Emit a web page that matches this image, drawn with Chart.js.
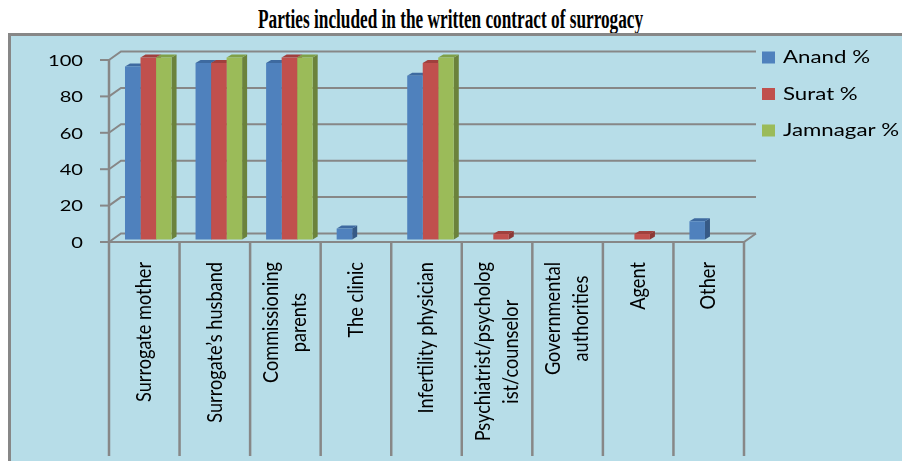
<!DOCTYPE html>
<html>
<head>
<meta charset="utf-8">
<script src="https://cdn.jsdelivr.net/npm/chart.js@4.4.0/dist/chart.umd.min.js"></script>
<style>
  html, body { margin: 0; padding: 0; background: #fff; }
  #wrap { position: relative; width: 902px; height: 461px; overflow: hidden; }
  #title { position: absolute; top: 6px; left: 0; width: 902px; text-align: center; white-space: nowrap;
           font: bold 27px "Liberation Serif", "Times New Roman", serif; line-height: 27px; color: #000; }
  #title span { display: inline-block; transform-origin: 50% 50%; }
  #frame { position: absolute; left: 8px; top: 33px; width: 920px; height: 460px; box-sizing: border-box;
           border: 3px solid #878787; background: #b7dde8; }
  #chart { position: absolute; left: 0; top: 0; }
</style>
</head>
<body>
<div id="wrap">
  <div id="title"><span>Parties included in the written contract of surrogacy</span></div>
  <div id="frame"></div>
  <canvas id="chart" width="902" height="461"></canvas>
</div>
<script>
const categories = [
  ["Surrogate mother"],
  ["Surrogate\u2019s husband"],
  ["Commissioning", "parents"],
  ["The clinic"],
  ["Infertility physician"],
  ["Psychiatrist/psycholog", "ist/counselor"],
  ["Governmental", "authorities"],
  ["Agent"],
  ["Other"],
];
const anand = [95, 97, 97, 6, 90, 0, 0, 0, 10];
const surat = [100, 97, 100, 0, 97, 3, 0, 3, 0];
const jamnagar = [100, 100, 100, 0, 100, 0, 0, 0, 0];
const seriesNames = ["Anand %", "Surat %", "Jamnagar %"];
const yTicks = [0, 20, 40, 60, 80, 100];

const fronts = ["#4f81bd", "#c0504d", "#9bbb59"];
const sides = ["#365a86", "#8c3936", "#6b823c"];
const tops = ["#3e6aa0", "#a0403d", "#80a047"];
const LINE = "#878787";

// squeeze the title to the width it has in the picture
const t = document.querySelector("#title span");
t.style.transform = `scaleX(${385 / t.offsetWidth})`;

const DX = 12, DY = -8.5;   // back wall offset
const BX = 5, BY = -3;      // bar depth
const SX = 4, SY = -2.5;    // bars sit mid-depth

const decor = {
  id: "decor",
  beforeDatasetsDraw(chart) {
    const { ctx, chartArea: a, scales: { x, y } } = chart;
    ctx.save();
    ctx.strokeStyle = LINE;
    ctx.lineWidth = 2;

    // back wall grid lines + diagonals
    yTicks.forEach((v) => {
      const py = y.getPixelForValue(v);
      ctx.beginPath();
      ctx.moveTo(a.left, py);
      ctx.lineTo(a.left + DX, py + DY);
      ctx.lineTo(a.right + DX, py + DY);
      ctx.stroke();
      // front tick
      ctx.beginPath();
      ctx.moveTo(a.left - 9, py);
      ctx.lineTo(a.left, py);
      ctx.stroke();
    });
    // floor front edge
    ctx.beginPath();
    ctx.moveTo(a.left, a.bottom);
    ctx.lineTo(a.right, a.bottom);
    ctx.lineTo(a.right + DX, a.bottom + DY);
    ctx.stroke();

    // category separators / front axis
    ctx.lineWidth = 2.5;
    const w = (a.right - a.left) / categories.length;
    for (let i = 0; i <= categories.length; i++) {
      const px = a.left + i * w;
      ctx.beginPath();
      ctx.moveTo(px, i === 0 ? y.getPixelForValue(100) : a.bottom);
      ctx.lineTo(px, 456);
      ctx.stroke();
    }

    // y labels
    ctx.fillStyle = "#000";
    ctx.font = "15px Lato";
    ctx.textAlign = "right";
    ctx.textBaseline = "middle";
    const ys = 35 / ctx.measureText("100").width;
    yTicks.forEach((v) => {
      const py = y.getPixelForValue(v);
      ctx.save();
      ctx.translate(83, py + 1);
      ctx.scale(ys, 1);
      ctx.fillText(String(v), 0, 0);
      ctx.restore();
    });

    // category labels, rotated
    ctx.font = "21px Lato";
    const sx = 140 / ctx.measureText("Surrogate mother").width;
    categories.forEach((lines, i) => {
      const cx = x.getPixelForValue(i);
      const maxW = Math.max(...lines.map((l) => ctx.measureText(l).width));
      ctx.save();
      ctx.translate(cx, 262);
      ctx.rotate(-Math.PI / 2);
      ctx.scale(sx, 1);
      ctx.textAlign = "center";
      ctx.textBaseline = "middle";
      lines.forEach((l, j) => {
        ctx.fillText(l, -maxW / 2, (j - (lines.length - 1) / 2) * 28);
      });
      ctx.restore();
    });

    // legend
    ctx.font = "18px Lato";
    ctx.textAlign = "left";
    ctx.textBaseline = "middle";
    const ls = 87 / ctx.measureText("Anand %").width;
    seriesNames.forEach((name, i) => {
      const cy = 57.5 + i * 36.5;
      ctx.fillStyle = fronts[i];
      ctx.fillRect(762, cy - 6, 13, 12);
      ctx.fillStyle = "#000";
      ctx.save();
      ctx.translate(783, cy);
      ctx.scale(ls, 1);
      ctx.fillText(name, 0, 0);
      ctx.restore();
    });
    ctx.restore();

    // 3D faces of the bars, drawn behind the fronts
    ctx.save();
    ctx.translate(SX, SY);
    chart.data.datasets.forEach((ds, di) => {
      chart.getDatasetMeta(di).data.forEach((el, i) => {
        if (!ds.data[i]) return;
        const l = el.x - el.width / 2, r = el.x + el.width / 2;
        ctx.fillStyle = sides[di];
        ctx.beginPath();
        ctx.moveTo(r, el.y);
        ctx.lineTo(r + BX, el.y + BY);
        ctx.lineTo(r + BX, el.base + BY);
        ctx.lineTo(r, el.base);
        ctx.closePath();
        ctx.fill();
        ctx.fillStyle = tops[di];
        ctx.beginPath();
        ctx.moveTo(l, el.y);
        ctx.lineTo(l + BX, el.y + BY);
        ctx.lineTo(r + BX, el.y + BY);
        ctx.lineTo(r, el.y);
        ctx.closePath();
        ctx.fill();
      });
    });
  },
  afterDatasetsDraw(chart) {
    chart.ctx.restore();
  },
};

new Chart(document.getElementById("chart"), {
  type: "bar",
  data: {
    labels: categories,
    datasets: [anand, surat, jamnagar].map((d, i) => ({
      label: seriesNames[i],
      data: d,
      backgroundColor: fronts[i],
      borderWidth: 0,
      categoryPercentage: 0.66,
      barPercentage: 1,
      clip: false,
    })),
  },
  options: {
    responsive: false,
    animation: false,
    layout: { padding: { left: 109, right: 158, top: 60, bottom: 219 } },
    scales: {
      x: { display: false },
      y: { display: false, min: 0, max: 100 },
    },
    plugins: { legend: { display: false }, tooltip: { enabled: false } },
  },
  plugins: [decor],
});
</script>
</body>
</html>
